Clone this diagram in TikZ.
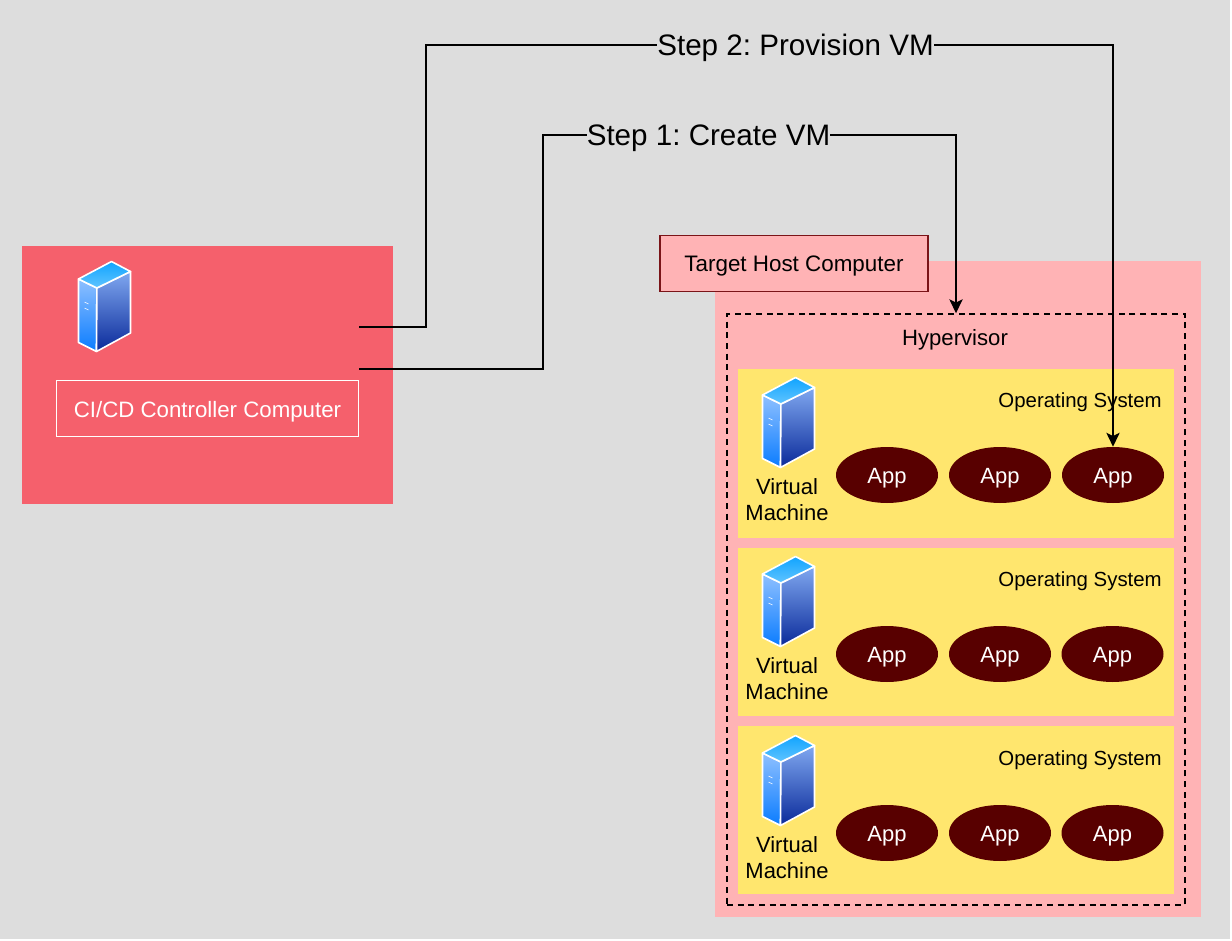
\documentclass[tikz,border=0pt]{standalone}
\usepackage{fontspec}
\setmainfont{Liberation Sans}
\frenchspacing
\usetikzlibrary{arrows.meta,shapes.geometric}
\definecolor{bgc}{HTML}{DDDDDD}
\definecolor{cired}{HTML}{F5606C}
\definecolor{hostpink}{HTML}{FFB3B5}
\definecolor{labeledge}{HTML}{7A1418}
\definecolor{osyellow}{HTML}{FFE66E}
\definecolor{appred}{HTML}{580000}
\definecolor{lefttop}{HTML}{8FC0FF}
\definecolor{leftbot}{HTML}{0A7CFF}
\definecolor{righttop}{HTML}{80A8F0}
\definecolor{rightbot}{HTML}{0A2A9A}
\definecolor{capa}{HTML}{10A4FF}
\definecolor{capb}{HTML}{60C4FF}
\newcommand{\lowered}[1]{\raisebox{-2.2pt}[\height][\depth]{#1}}
\tikzset{
  x=0.75pt,y=-0.75pt,
  page/.style={fill=bgc,draw=none},
  cibox/.style={fill=cired,draw=none},
  hostbox/.style={fill=hostpink,draw=none},
  hyperbox/.style={draw=black,line width=1.1pt,dash pattern=on 4.5pt off 3.5pt},
  osbox/.style={fill=osyellow,draw=none},
  appnode/.style={ellipse,fill=appred,draw=none,minimum width=76.5pt,minimum height=42pt,inner sep=0pt,text=white,font=\fontsize{16.5}{18}\selectfont},
  ostext/.style={anchor=east,inner sep=0pt,font=\fontsize{15.3}{18}\selectfont},
  vmtext/.style={align=center,inner sep=0pt,font=\fontsize{16.5}{19.5}\selectfont},
  steptext/.style={fill=bgc,inner sep=0pt,minimum height=24pt,font=\fontsize{22.2}{26}\selectfont},
  link/.style={draw=black,line width=1.1pt,line join=miter},
  arrowlink/.style={link,-{Stealth[length=10.5pt,width=10pt,inset=2.5pt]}},
  serverface/.style={draw=white,line width=1.2pt,line join=round},
  pics/serverIcon/.style={code={
    \shade[serverface,top color=lefttop,bottom color=leftbot] (0,18) -- (18.4,27) -- (18,90.5) -- (0,81.5) -- cycle;
    \shade[serverface,top color=righttop,bottom color=rightbot] (18.4,27) -- (52,10.5) -- (52,72) -- (18,90.5) -- cycle;
    \shade[serverface,top color=capa,bottom color=capb] (0,18) -- (33,0.5) -- (52,10.5) -- (18.4,27) -- cycle;
    \draw[white,line width=0.4pt] (6,41) -- (10,43) (6,47) -- (10,49);
  }}
}
\begin{document}
\begin{tikzpicture}
\useasboundingbox (0,0) rectangle (1232,941);
\fill[white] (0,0) rectangle (1232,941);
\path[page] (0,0) rectangle (1230,939);
% CI/CD controller
\path[cibox] (22,246) rectangle (393,504);
\pic at (78.5,261) {serverIcon};
\node[draw=white,line width=1.3pt,minimum width=226.5pt,minimum height=42pt,inner sep=0pt,text=white,font=\fontsize{16.7}{20}\selectfont] (ci) at (207.5,408.5) {\lowered{CI/CD Controller Computer}};
\coordinate (out2) at (359,327);
\coordinate (out1) at (359,369);
% Target host
\path[hostbox] (715,261) rectangle (1201,917);
\node[fill=hostpink,draw=labeledge,line width=1.2pt,minimum width=201pt,minimum height=42pt,inner sep=0pt,font=\fontsize{16.8}{19}\selectfont] (target) at (794,263.5) {\lowered{Target Host Computer}};
\node[hyperbox,minimum width=343.5pt,minimum height=443.25pt,inner sep=0pt] (hyper) at (956,609.5) {};
\node[inner sep=0pt,font=\fontsize{16.6}{19}\selectfont] (hyperlabel) at (955,340) {Hypervisor};
% Row 1
\path[osbox] (738,369) rectangle (1174,538);
\pic at (762.5,377) {serverIcon};
\node[ostext] (os1) at (1162,402) {Operating System};
\node[vmtext] (vm1) at (787,500) {Virtual\\Machine};
\node[appnode] (a11) at (887,475) {\lowered{App}};
\node[appnode] (a12) at (1000,475) {\lowered{App}};
\node[appnode] (a13) at (1113,475) {\lowered{App}};
% Row 2
\path[osbox] (738,548) rectangle (1174,716);
\pic at (762.5,556) {serverIcon};
\node[ostext] (os2) at (1162,581) {Operating System};
\node[vmtext] (vm2) at (787,679) {Virtual\\Machine};
\node[appnode] (a21) at (887,654) {\lowered{App}};
\node[appnode] (a22) at (1000,654) {\lowered{App}};
\node[appnode] (a23) at (1112.5,654) {\lowered{App}};
% Row 3
\path[osbox] (738,726) rectangle (1174,894);
\pic at (762.5,735) {serverIcon};
\node[ostext] (os3) at (1162,760) {Operating System};
\node[vmtext] (vm3) at (787,858) {Virtual\\Machine};
\node[appnode] (a31) at (887,833) {\lowered{App}};
\node[appnode] (a32) at (1000,833) {\lowered{App}};
\node[appnode] (a33) at (1112.5,833) {\lowered{App}};
% Connectors
\draw[arrowlink] (out1) -- (543,369) -- (543,135) -- (956,135) -- (hyper.north);
\draw[arrowlink] (out2) -- (426,327) -- (426,45) -- (1113,45) -- (a13.north);
\node[steptext] (s1) at (708.5,135) {\lowered{Step 1: Create VM}};
\node[steptext] (s2) at (795.5,45) {\lowered{Step 2: Provision VM}};
\end{tikzpicture}
\end{document}
